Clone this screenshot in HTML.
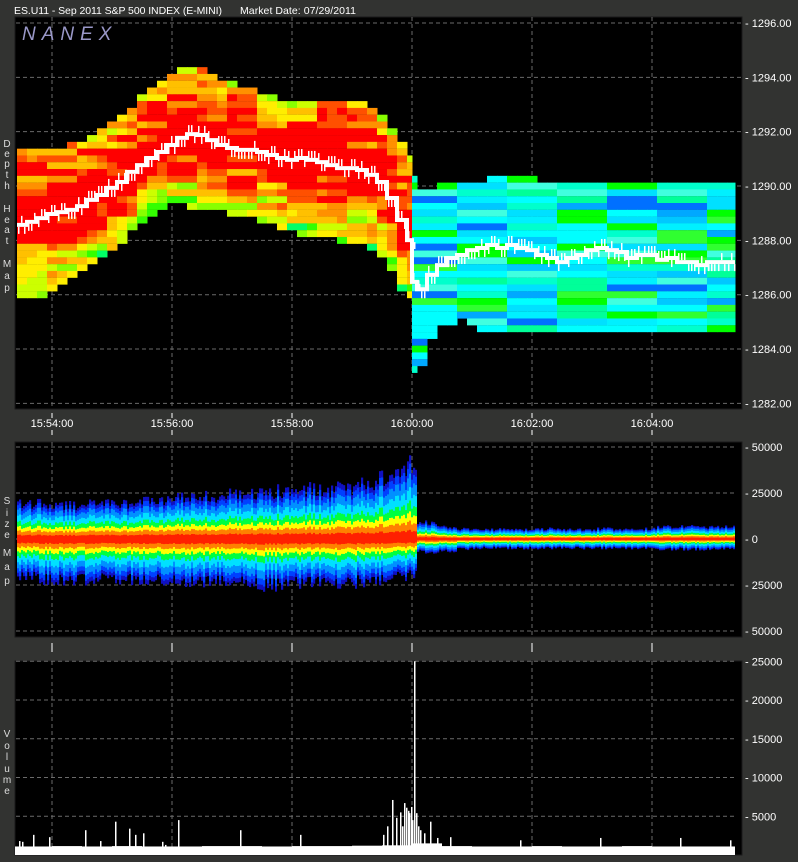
<!DOCTYPE html>
<html><head><meta charset="utf-8"><style>
html,body{margin:0;padding:0;background:#323331;}
body{width:798px;height:862px;overflow:hidden;font-family:"Liberation Sans",sans-serif;}
svg{display:block}
text{font-family:"Liberation Sans",sans-serif;}
</style></head><body>
<svg id="chart" width="798" height="862" xmlns="http://www.w3.org/2000/svg">
<rect x="0" y="0" width="798" height="862" fill="#323331"/>
<text x="14" y="14" fill="#fff" font-size="10.5" textLength="208">ES.U11 - Sep 2011 S&amp;P 500 INDEX (E-MINI)</text>
<text x="240" y="14" fill="#fff" font-size="10.5" textLength="116">Market Date: 07/29/2011</text>
<rect x="15" y="17" width="727" height="392" fill="#000" stroke="#1a1a1a"/>
<rect x="15" y="442" width="727" height="195" fill="#000" stroke="#1a1a1a"/>
<rect x="15" y="661" width="727" height="194" fill="#000" stroke="#1a1a1a"/>
<g id="grid"></g>
<g id="heat"></g>
<g id="mid"></g>
<g id="size"></g>
<g id="vol"></g>
<g id="axes"></g>
<text x="22" y="40" fill="#9a98c8" font-size="19" font-style="italic" letter-spacing="6">NANEX</text>
</svg>
<script>
// ---- data ----
// time in seconds relative to 15:54:00
const heatTimes=[-35,-25,-15,-5,5,15,25,35,45,55,65,75,85,95,105,115,125,135,145,155,165,175,185,195,205,215,225,235,245,255,265,275,285,295,305,315,325,335,345,355,360,365,375,385,395,405,415,425,435,445,455,465,475,485,495,505,515,525,535,545,555,565,575,585,595,605,615,625,635,645,655,665,675];
const heatTop=[1291.40,1291.33,1291.33,1291.33,1291.40,1291.51,1291.62,1291.88,1292.14,1292.43,1292.72,1292.98,1293.35,1293.72,1293.98,1294.20,1294.34,1294.38,1294.34,1294.20,1293.98,1293.90,1293.72,1293.61,1293.46,1293.35,1293.24,1293.09,1293.17,1293.24,1293.17,1293.09,1293.17,1293.09,1293.02,1292.87,1292.61,1292.06,1291.51,1291.03,1290.41,1289.93,1289.98,1290.15,1290.15,1290.22,1290.22,1290.22,1290.30,1290.30,1290.30,1290.30,1290.30,1290.15,1290.15,1290.15,1290.22,1290.22,1290.22,1290.22,1290.22,1290.15,1290.15,1290.22,1290.15,1290.15,1290.22,1290.22,1290.15,1290.15,1290.15,1290.15,1290.15];
const heatBottom=[1285.80,1285.88,1285.99,1286.17,1286.36,1286.54,1286.84,1287.09,1287.28,1287.57,1287.94,1288.31,1288.60,1288.93,1289.12,1289.26,1289.26,1289.19,1289.12,1289.04,1289.04,1288.97,1288.90,1288.82,1288.68,1288.53,1288.38,1288.31,1288.23,1288.16,1288.09,1288.01,1287.94,1287.83,1287.79,1287.64,1287.35,1286.84,1286.25,1285.80,1283.23,1283.41,1284.33,1284.89,1285.00,1285.07,1285.00,1284.70,1284.63,1284.70,1284.70,1284.70,1284.52,1284.52,1284.52,1284.52,1284.52,1284.52,1284.63,1284.63,1284.70,1284.52,1284.52,1284.63,1284.63,1284.63,1284.52,1284.52,1284.52,1284.52,1284.52,1284.52,1284.52];
const heatMid=[1288.57,1288.68,1288.82,1288.97,1289.04,1289.12,1289.26,1289.49,1289.67,1289.93,1290.15,1290.52,1290.77,1291.03,1291.25,1291.51,1291.77,1291.91,1291.88,1291.69,1291.51,1291.40,1291.33,1291.33,1291.25,1291.14,1291.03,1290.96,1291.03,1290.96,1290.88,1290.77,1290.66,1290.66,1290.59,1290.41,1290.15,1289.56,1288.75,1288.01,1286.47,1286.20,1286.73,1287.09,1287.35,1287.46,1287.64,1287.72,1287.83,1287.72,1287.83,1287.72,1287.64,1287.46,1287.35,1287.20,1287.35,1287.46,1287.64,1287.72,1287.64,1287.57,1287.35,1287.46,1287.46,1287.28,1287.35,1287.20,1287.20,1287.09,1287.20,1287.20,1287.20];
const sizeTimes=[-35,-15,5,25,45,65,85,105,125,145,165,185,205,225,245,265,285,305,325,345,355,365,385,405,425,445,465,485,505,525,545,565,585,605,625,645,665];
const sizeUpper=[19000,19000,18000,19000,19000,19000,20000,21000,22000,23000,24000,25000,25000,26000,27000,26000,28000,31000,33000,38000,40000,9000,6500,5500,5000,5500,5000,5500,5000,5000,5500,5000,5500,6500,7000,6500,6500];
const sizeLower=[21000,22000,22000,22000,21000,22000,22000,22000,23000,23000,23000,24000,25000,24000,24000,23000,24000,23000,22000,20000,19000,7000,6500,5500,5000,5000,5000,5000,5000,5000,5000,5000,5000,5500,5500,5500,5500];
const volBaseTimes=[-37,-20,0,30,60,90,120,150,180,210,240,270,300,330,360,390,420,450,480,510,540,570,600,630,660];
const volBase=[1100,1100,1150,1100,1150,1100,1100,1150,1150,1100,1150,1150,1200,1250,1500,1150,1100,1100,1150,1100,1100,1150,1100,1100,1100];
const volSpikeTimes=[-33,-30,-19,-3,33,48,63,77,83,91,110,113,126,188,248,331,335,340,344,348,350,352,354,356,357,359,360,362,364,366,368,372,378,385,398,468,548,628,678];
const volSpikeValues=[1800,1700,2600,2300,3200,1800,4300,3400,2600,2800,1700,1300,4500,3200,2600,2600,3700,7100,4800,5500,3700,6700,6100,5700,5400,6200,4500,25000,5400,3700,3200,2800,4300,2200,2300,1900,2200,2200,1900];
const priceTicks=[1296,1294,1292,1290,1288,1286,1284,1282];
const sizeTicks=[50000,25000,0,-25000,-50000];
const volTicks=[25000,20000,15000,10000,5000];
const timeTicks=[0,120,240,360,480,600];
const timeLabels=["15:54:00","15:56:00","15:58:00","16:00:00","16:02:00","16:04:00"];

// ---- scales ----
const NS="http://www.w3.org/2000/svg";
const TEND=683;
const X=t=>52+t;
const Y=p=>23+(1296-p)*27.17;
const YS=v=>539-v*0.00184;
const YV=v=>855-v*0.00775;
function mk(tag,attrs,parent){const e=document.createElementNS(NS,tag);for(const k in attrs)e.setAttribute(k,attrs[k]);parent.appendChild(e);return e;}
function hash(i,j){let h=(i*73856093)^(j*19349663)^(i*j*83492791);h=(h>>>0)%1000;return h/1000;}
const grid=document.getElementById('grid'),heat=document.getElementById('heat'),midG=document.getElementById('mid'),sizeG=document.getElementById('size'),volG=document.getElementById('vol'),axes=document.getElementById('axes');

// gridlines
timeTicks.forEach((t,i)=>{
  [[17,409],[442,637],[661,855]].forEach(r=>{
    const l=mk('line',{x1:X(t),x2:X(t),y1:r[0],y2:r[1],stroke:'#6a6a6a','stroke-dasharray':'4,3','stroke-width':1},grid);
    
    
  });
});
priceTicks.forEach(p=>{const l=mk('line',{x1:16,x2:741,y1:Y(p),y2:Y(p),stroke:'#6a6a6a','stroke-dasharray':'4,3'},grid);
  
  });
sizeTicks.forEach(v=>{const l=mk('line',{x1:16,x2:736,y1:YS(v),y2:YS(v),stroke:'#6a6a6a','stroke-dasharray':'4,3'},grid);
  
  });
volTicks.forEach(v=>{const l=mk('line',{x1:16,x2:736,y1:YV(v),y2:YV(v),stroke:'#6a6a6a','stroke-dasharray':'4,3'},grid);
  
  });

// heat map
const warm=['#ff0000','#ff0000','#ff0000','#ff5000','#ff9000','#ffc000','#ffee00','#ccff00','#88ff00','#33ff00','#00ff66'];
const cool=['#00ffff','#00ffff','#00f0ff','#00e0ff','#40ffe0','#00ffcc','#00c8ff','#00ff99','#00a8ff','#30ff30','#0070ff','#00ff00'];
for(let i=0;i<heatTimes.length;i++){
  const t0=heatTimes[i],t1=i+1<heatTimes.length?heatTimes[i+1]:TEND;
  const x0=X(t0),w=X(t1)-x0;
  const top=heatTop[i],bot=heatBottom[i],mid=heatMid[i];
  const post=t0>=358;
  for(let p=Math.floor(top*4)/4;p>=bot;p-=0.25){
    const lvl=Math.round(p*4);
    let c;
    if(!post){
      const d=p>=mid?(p-mid)/Math.max(0.5,top-mid)*0.7:(mid-p)/Math.max(0.5,mid-bot);
      let k=Math.floor(d*9+(hash(lvl,Math.floor(i/3))-0.5)*5);
      k=Math.max(0,Math.min(warm.length-1,k));
      c=warm[k];
    }else{
      let k=Math.floor(hash(lvl,Math.floor(i/5))*cool.length);
      k=Math.max(0,Math.min(cool.length-1,k));
      c=cool[k];
    }
    const r=mk('rect',{x:x0,y:Y(p+0.125),width:w+0.5,height:6.9,fill:c},heat);
    
    
  }
}
// mid price line
let pts=[];
for(let i=0;i<heatTimes.length;i++){const t1=i+1<heatTimes.length?heatTimes[i+1]:TEND;
  pts.push(X(heatTimes[i])+','+Y(heatMid[i]));pts.push(X(t1)+','+Y(heatMid[i]));}
const pl=mk('polyline',{points:pts.join(' '),fill:'none',stroke:'#fff','stroke-width':4},midG);


for(let i=0;i<heatTimes.length;i++){
  for(let k=0;k<3;k++){const x=X(heatTimes[i])+k*3+1;const up=hash(i,k)>0.5;
    const r=mk('rect',{x:x,y:Y(heatMid[i])+(up?-9:2),width:1.5,height:7,fill:'#fff'},midG);
    
    }
}

// size map
const bandFr=[1,0.9,0.78,0.62,0.46,0.33,0.22,0.11];
const bandCol=['#1010c0','#0040ff','#0090ff','#00e0ff','#00ff40','#ffff00','#ff8000','#ff2000'];
for(let i=0;i<sizeTimes.length;i++){
  const t0=sizeTimes[i],t1=i+1<sizeTimes.length?sizeTimes[i+1]:TEND;
  for(let t=t0;t<t1;t+=2){
    const jit=0.85+hash(t+100,i)*0.3;
    const up=sizeUpper[i]*jit,lo=sizeLower[i]*(0.85+hash(i,t+300)*0.3);
    bandFr.forEach((f,b)=>{
      const y0=YS(up*f),y1=YS(-lo*f);
      const r=mk('rect',{x:X(t),y:y0,width:Math.min(2.2,X(t1)-X(t)),height:y1-y0,fill:bandCol[b]},sizeG);
      
      
    });
  }
}

// volume
for(let i=0;i<volBaseTimes.length;i++){
  const t0=volBaseTimes[i],t1=i+1<volBaseTimes.length?volBaseTimes[i+1]:TEND;
  const r=mk('rect',{x:X(t0),y:YV(volBase[i]),width:X(t1)-X(t0),height:855-YV(volBase[i]),fill:'#fff'},volG);
  
  
}
for(let i=0;i<volSpikeTimes.length;i++){
  const r=mk('rect',{x:X(volSpikeTimes[i]),y:YV(volSpikeValues[i]),width:1.5,height:855-YV(volSpikeValues[i]),fill:'#fff'},volG);
  
  
}

// axes labels
function lbl(x,y,s,name,anchor){const e=mk('text',{x:x,y:y,fill:'#fff','font-size':11,'text-anchor':anchor||'start'},axes);e.textContent=s;
  
  return e;}
priceTicks.forEach(p=>lbl(745,Y(p)+4,'- '+p.toFixed(2),'price-tick-label'));
sizeTicks.forEach(v=>lbl(745,YS(v)+4,'- '+Math.abs(v),'size-tick-label'));
volTicks.forEach(v=>lbl(745,YV(v)+4,'- '+v,'volume-tick-label'));
timeTicks.forEach((t,i)=>{
  lbl(X(t),427,timeLabels[i],'time-tick-label','middle');
  const a=mk('line',{x1:X(t),x2:X(t),y1:413,y2:418,stroke:'#fff'},axes);
  
  
  const b=mk('line',{x1:X(t),x2:X(t),y1:430,y2:435,stroke:'#fff'},axes);
  
  
  const c=mk('line',{x1:X(t),x2:X(t),y1:643,y2:652,stroke:'#fff'},axes);
  
  
});
function vert(letters,ys,name){letters.split('').forEach((ch,i)=>{const e=mk('text',{x:7,y:ys[i],fill:'#ddd','font-size':10,'text-anchor':'middle'},axes);e.textContent=ch;
  
  });}
vert('Depth',[147,157,167,178,189],'depth-axis-title');
vert('Heat',[212,223,233,244],'heat-axis-title');
vert('Map',[267,279,291],'map-axis-title');
vert('Size',[504,516,527,538],'size-axis-title');
vert('Map',[556,570,584],'size-map-axis-title');
vert('Volume',[737,749,760,772,783,794],'volume-axis-title');
</script>
</body></html>
